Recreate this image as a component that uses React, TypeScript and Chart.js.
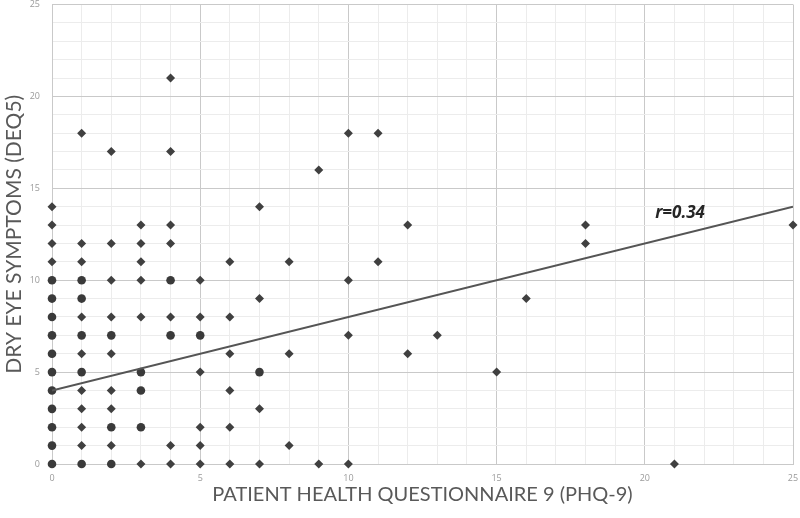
import React, { useEffect, useRef } from "react";
import { Chart, registerables } from "chart.js";

Chart.register(...registerables);

// PHQ-9 score (x) and DEQ5 score (y) of single observations
const singleX = [
  0, 0, 0, 0,
  1, 1, 1, 1, 1, 1, 1, 1, 1,
  2, 2, 2, 2, 2, 2, 2, 2,
  3, 3, 3, 3, 3, 3,
  4, 4, 4, 4, 4, 4, 4,
  5, 5, 5, 5, 5, 5,
  6, 6, 6, 6, 6, 6,
  7, 7, 7, 7,
  8, 8, 8,
  9, 9,
  10, 10, 10, 10,
  11, 11,
  12, 12,
  13,
  15,
  16,
  18, 18,
  21,
  25,
];
const singleY = [
  11, 12, 13, 14,
  1, 2, 3, 4, 6, 8, 11, 12, 18,
  1, 3, 4, 6, 8, 10, 12, 17,
  0, 8, 10, 11, 12, 13,
  0, 1, 8, 12, 13, 17, 21,
  0, 1, 2, 5, 8, 10,
  0, 2, 4, 6, 8, 11,
  0, 3, 9, 14,
  1, 6, 11,
  0, 16,
  0, 7, 10, 18,
  11, 18,
  6, 13,
  7,
  5,
  9,
  12, 13,
  0,
  13,
];

// observations where several patients share the same score pair (drawn heavier)
const stackedX = [0, 0, 0, 0, 0, 0, 0, 0, 0, 0, 0, 1, 1, 1, 1, 1, 2, 2, 2, 3, 3, 3, 4, 4, 5, 7];
const stackedY = [0, 1, 2, 3, 4, 5, 6, 7, 8, 9, 10, 0, 5, 7, 9, 10, 0, 2, 7, 2, 4, 5, 7, 10, 7, 5];

// linear trend line end points
const trendX = [0, 25];
const trendY = [4, 14];

const annotationText = "r=0.34";
const annotationX = 20.35;
const annotationY = 13.65;

const xTitle = "PATIENT HEALTH QUESTIONNAIRE 9 (PHQ-9)";
const yTitle = "DRY EYE SYMPTOMS (DEQ5)";
const axisMin = 0;
const axisMax = 25;
const majorStep = 5;

export default function App() {
  const canvasRef = useRef<HTMLCanvasElement | null>(null);

  useEffect(() => {
    const canvas = canvasRef.current;
    if (!canvas) return;

    const toPoints = (xs: number[], ys: number[]) => xs.map((x, i) => ({ x, y: ys[i] }));

    const major = "#c9c9c9";
    const minor = "#ececec";
    const gridColor = (ctx: any) =>
      ctx.tick && ctx.tick.value % majorStep === 0 ? major : minor;
    const tickCb = (v: any) => (Number(v) % majorStep === 0 ? String(v) : "");
    const tickFont = { family: "'Open Sans', sans-serif", size: 9 };
    const zeroPad = (s: any) => {
      s.paddingLeft = 0;
      s.paddingRight = 0;
      s.paddingTop = 0;
      s.paddingBottom = 0;
    };

    const annotationPlugin = {
      id: "rAnnotation",
      afterDatasetsDraw(chart: any) {
        const { ctx, scales } = chart;
        const px = scales.x.getPixelForValue(annotationX);
        const py = scales.y.getPixelForValue(annotationY);
        ctx.save();
        ctx.font = "italic bold 17px 'Open Sans', sans-serif";
        ctx.fillStyle = "#262626";
        ctx.textAlign = "left";
        ctx.textBaseline = "middle";
        ctx.fillText(annotationText, px, py);
        ctx.restore();
      },
    };

    const chart = new Chart(canvas, {
      type: "scatter",
      data: {
        datasets: [
          {
            type: "line",
            label: "trend",
            data: toPoints(trendX, trendY),
            borderColor: "#555555",
            borderWidth: 2,
            pointRadius: 0,
            fill: false,
            order: 0,
          } as any,
          {
            label: "single",
            data: toPoints(singleX, singleY),
            pointStyle: "rectRot",
            pointRadius: 4.5,
            backgroundColor: "#404040",
            borderWidth: 0,
            clip: false,
            order: 1,
          },
          {
            label: "stacked",
            data: toPoints(stackedX, stackedY),
            pointStyle: "circle",
            pointRadius: 4.3,
            backgroundColor: "#3a3a3a",
            borderWidth: 0,
            clip: false,
            order: 1,
          },
        ],
      },
      options: {
        animation: false,
        responsive: true,
        maintainAspectRatio: false,
        layout: { padding: { top: 4, right: 7, left: 0, bottom: 0 } },
        plugins: { legend: { display: false }, tooltip: { enabled: false } },
        scales: {
          x: {
            type: "linear",
            min: axisMin,
            max: axisMax,
            afterFit: (s: any) => {
              s.height = 54;
              zeroPad(s);
            },
            ticks: {
              stepSize: 1,
              autoSkip: false,
              maxRotation: 0,
              callback: tickCb,
              font: tickFont,
              color: "#9a9a9a",
              padding: 9,
            },
            grid: { color: gridColor, lineWidth: 1, drawTicks: false },
            border: { color: major, width: 1 },
            title: {
              display: true,
              text: xTitle,
              color: "#595959",
              font: { family: "Lato, 'Open Sans', sans-serif", size: 20, weight: "normal" },
              padding: { top: 0, bottom: 11 },
            },
          },
          y: {
            type: "linear",
            min: axisMin,
            max: axisMax,
            afterFit: (s: any) => {
              s.width = 52;
              zeroPad(s);
            },
            ticks: {
              stepSize: 1,
              autoSkip: false,
              callback: tickCb,
              font: tickFont,
              color: "#9a9a9a",
              padding: 12,
            },
            grid: { color: gridColor, lineWidth: 1, drawTicks: false },
            border: { color: major, width: 1 },
            title: {
              display: true,
              text: yTitle,
              color: "#595959",
              font: { family: "Lato, 'Open Sans', sans-serif", size: 21, weight: "normal" },
              padding: { top: 2, bottom: 0 },
            },
          },
        },
      },
      plugins: [annotationPlugin],
    });

    return () => chart.destroy();
  }, []);

  return (
    <div style={{ position: "fixed", left: 0, top: 0, width: 800, height: 518, background: "#ffffff" }}>
      <canvas ref={canvasRef} />
    </div>
  );
}
